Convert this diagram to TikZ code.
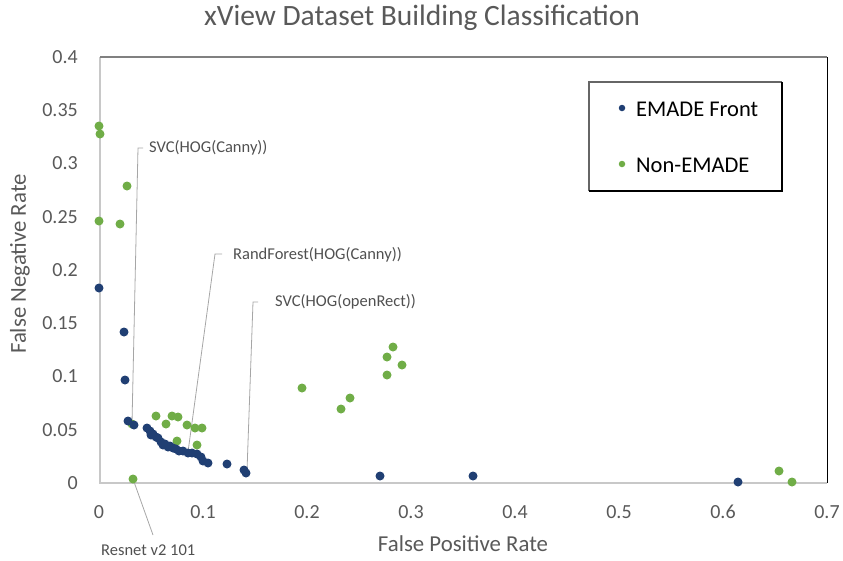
\documentclass[tikz,border=0pt]{standalone}
\usepackage{fontspec}
\setmainfont{Carlito}
\definecolor{emblue}{HTML}{203F73}
\definecolor{emgreen}{HTML}{70AD47}
\definecolor{ticktxt}{HTML}{595959}
\definecolor{axisgray}{HTML}{C8C8C8}
\definecolor{leadgray}{HTML}{A6A6A6}
\tikzset{
  bpt/.style={circle,fill=emblue,inner sep=0pt,minimum size=9pt},
  gpt/.style={circle,fill=emgreen,inner sep=0pt,minimum size=9pt},
  ticklab/.style={text=ticktxt,font=\fontsize{20}{22}\selectfont,inner sep=0pt},
  axtitle/.style={text=ticktxt,font=\fontsize{22.8}{26}\selectfont,inner sep=0pt},
  leadlab/.style={text=ticktxt!90!black,font=\fontsize{16.5}{18}\selectfont,inner sep=0pt,anchor=west},
  leader/.style={draw=leadgray,line width=0.8pt},
  legtxt/.style={text=black,font=\fontsize{22.5}{26}\selectfont,inner sep=0pt,anchor=west}
}
\begin{document}
\begin{tikzpicture}[x=1pt,y=-1pt]
\useasboundingbox (0,0) rectangle (843,560);
% title
\node[text=ticktxt,font=\fontsize{29.5}{34}\selectfont,inner sep=0pt] (title) at (422,18) {xView Dataset Building Classification};
% plot frame
\draw[axisgray,line width=1.2pt] (100,57) -- (100,483) -- (827,483);
\draw[gray,line width=1.2pt] (100,57) -- (827,57);
\draw[black,line width=1pt] (827,57) -- (827,483);
% y ticks
\foreach \v/\p [count=\i] in {0/483,0.05/429.7,0.1/376.5,0.15/323.2,0.2/270,0.25/216.7,0.3/163.5,0.35/110.2,0.4/57}
  \node[ticklab,anchor=east] (yt\i) at (78,\p) {\v};
% x ticks
\foreach \v/\p [count=\i] in {0/99,0.1/203,0.2/307,0.3/411,0.4/515,0.5/619,0.6/723,0.7/827}
  \node[ticklab] (xt\i) at (\p,512) {\v};
% axis titles
\node[axtitle] (xtitle) at (463,544) {False Positive Rate};
\node[axtitle,rotate=90] (ytitle) at (20,264) {False Negative Rate};
% legend
\draw[gray!80!black,line width=1.2pt] (589,191) -- (589,82) -- (782,82);
\draw[black,line width=1.2pt] (782,82) -- (782,191) -- (589,191);
\node[circle,fill=emblue,inner sep=0pt,minimum size=6.5pt] (lb) at (622,108) {};
\node[legtxt] (lbt) at (636,109) {EMADE Front};
\node[circle,fill=emgreen,inner sep=0pt,minimum size=6.5pt] (lg) at (622,164) {};
\node[legtxt] (lgt) at (636,165) {Non-EMADE};
% leader labels
\node[leadlab] (svcc) at (149,148) {SVC(HOG(Canny))};
\node[leadlab] (rfc) at (233,255) {RandForest(HOG(Canny))};
\node[leadlab] (svco) at (275,302) {SVC(HOG(openRect))};
\node[leadlab] (resn) at (101,550) {Resnet v2 101};
% leader endpoints
\coordinate (s1) at (143,148);
\coordinate (c1) at (138,148);
\coordinate (p1) at (132,423);
\coordinate (s2) at (222,254);
\coordinate (c2) at (215,254);
\coordinate (p2) at (188,452);
\coordinate (s3) at (258,302);
\coordinate (c3) at (253,302);
\coordinate (p3) at (247,471);
\coordinate (p4) at (133,479);
\coordinate (r4) at (153,535);
\draw[leader] (s1) -- (c1) -- (p1);
\draw[leader] (s2) -- (c2) -- (p2);
\draw[leader] (s3) -- (c3) -- (p3);
\draw[leader] (p4) -- (r4);
% non-EMADE points
\foreach \x/\y [count=\i] in {99/126,100/134,127/186,99/221,120/224,156/416,166/424,172/416,178/417,187/425,195/428,202/428,177/441,197/445,132/424,133/479,302/388,350/398,341/409,387/357,393/347,402/365,387/375,779/471,792/482}
  \node[gpt] (g\i) at (\x,\y) {};
% EMADE front points
\foreach \x/\y [count=\i] in {99/288,124/332,125/380,128/421,134/425,147/428,150/431,151/435,153/434,156/437,158/438,161/442,163/445,165/444,168/447,170/446,173/448,176/449,179/451,183/451,188/453,192/453,197/454,201/457,203/461,208/463,227/464,244/470,246/473,380/476,473/476,738/482}
  \node[bpt] (b\i) at (\x,\y) {};
\end{tikzpicture}
\end{document}
